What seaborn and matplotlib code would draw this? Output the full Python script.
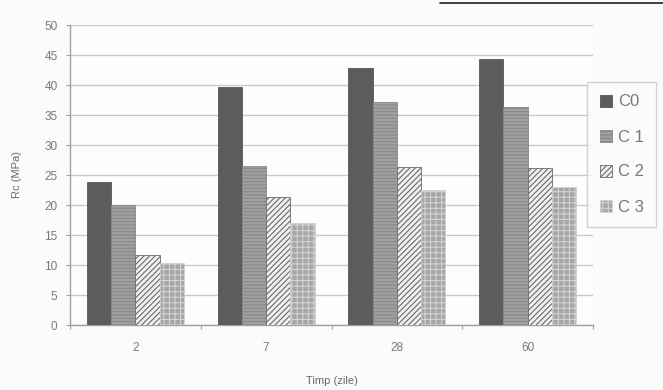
import numpy as np
import pandas as pd
import matplotlib
matplotlib.use("Agg")
import matplotlib.pyplot as plt
from matplotlib.lines import Line2D
from matplotlib.patches import Patch
import seaborn as sns

# Compressive strength Rc (MPa) by curing time, for four mixes
days = ["2", "7", "28", "60"]
series = ["C0", "C 1", "C 2", "C 3"]
rc_c0 = [23.8, 39.6, 42.8, 44.3]
rc_c1 = [20.0, 26.5, 37.2, 36.4]
rc_c2 = [11.6, 21.3, 26.4, 26.2]
rc_c3 = [10.4, 17.0, 22.5, 23.0]
y_ticks = list(range(0, 51, 5))

rows = []
for name, vals in zip(series, [rc_c0, rc_c1, rc_c2, rc_c3]):
    for d, v in zip(days, vals):
        rows.append({"Timp": d, "Rc": v, "Serie": name})
df = pd.DataFrame(rows)

sns.set_theme(style="white")
plt.rcParams["font.family"] = ["Liberation Sans", "DejaVu Sans"]
plt.rcParams["hatch.linewidth"] = 0.8

text_col = "#787878"
faces = ["#5c5c5c", "#a0a0a0", "#f0f0f0", "#a6a6a6"]
edges = ["#555555", "#888888", "#6a6a6a", "#d2d2d2"]
hatches = [None, "-----", "//////", "+++"]

fig = plt.figure(figsize=(6.63, 3.90), dpi=100)
fig.patch.set_facecolor("#fbfbfb")
ax = fig.add_axes([70 / 663, 65 / 390, 523 / 663, 300 / 390])
ax.set_facecolor("#fdfdfd")

sns.barplot(data=df, x="Timp", y="Rc", hue="Serie", order=days,
            hue_order=series, palette=faces, width=0.74, gap=0,
            errorbar=None, legend=False, ax=ax, zorder=3)

for i, cont in enumerate(ax.containers):
    for bar in cont:
        bar.set_facecolor(faces[i])
        bar.set_edgecolor(edges[i])
        bar.set_linewidth(0.6)
        if hatches[i]:
            bar.set_hatch(hatches[i])

ax.set_ylim(0, 50)
ax.set_xlim(-0.5, len(days) - 0.5)
ax.set_yticks(y_ticks)
ax.yaxis.grid(True, color="#cacaca", linewidth=1.0, zorder=0)
ax.set_axisbelow(True)

for s in ["top", "right"]:
    ax.spines[s].set_visible(False)
for s in ["left", "bottom"]:
    ax.spines[s].set_color("#a0a0a0")
    ax.spines[s].set_linewidth(1.0)

ax.tick_params(axis="y", left=True, length=3, width=0.8, color="#a0a0a0",
               labelsize=8.5, labelcolor=text_col, pad=6)
ax.tick_params(axis="x", bottom=False, labelsize=8.5, labelcolor=text_col, pad=6)
ax.set_xticks(np.arange(-0.5, len(days), 1.0), minor=True)
ax.tick_params(axis="x", which="minor", bottom=True, length=3, width=0.8,
               color="#a0a0a0")

ax.set_xlabel("Timp (zile)", fontsize=8, color="#6a6a6a", labelpad=16)
ax.set_ylabel("Rc (MPa)", fontsize=8, color="#6a6a6a", labelpad=16)

handles = [Patch(facecolor=faces[i], edgecolor=edges[i], hatch=hatches[i],
                 linewidth=0.6) for i in range(len(series))]
leg = fig.legend(handles, series, loc="upper left",
                 bbox_to_anchor=(587 / 663, 1 - 82 / 390),
                 frameon=True, fontsize=12, labelcolor=text_col,
                 handlelength=0.75, handleheight=0.75, handletextpad=0.35,
                 labelspacing=1.2, borderpad=0.75, fancybox=False,
                 borderaxespad=0)
leg.get_frame().set_edgecolor("#c8c8c8")
leg.get_frame().set_facecolor("#fcfcfc")
leg.get_frame().set_linewidth(1.0)

# dark rule along the upper right of the page
fig.add_artist(Line2D([440 / 663, 1.0], [1 - 3 / 390, 1 - 3 / 390],
                      color="#222222", linewidth=1.2))

fig.savefig("out.png", dpi=100, facecolor=fig.get_facecolor())
